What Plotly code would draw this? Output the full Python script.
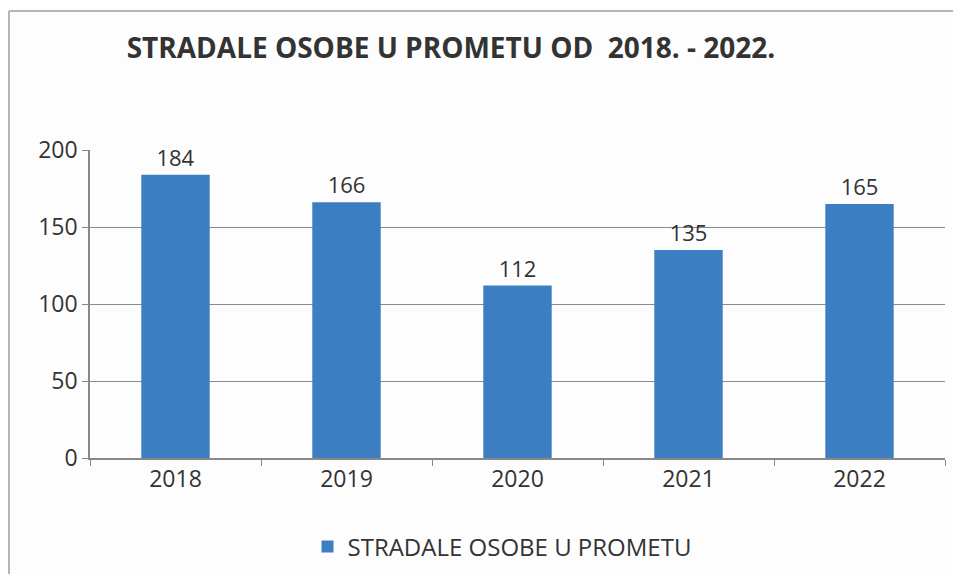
import plotly.graph_objects as go

# data
godine = ["2018", "2019", "2020", "2021", "2022"]
stradali = [184, 166, 112, 135, 165]
naziv_serije = "STRADALE OSOBE U PROMETU"
naslov = "STRADALE OSOBE U PROMETU OD  2018. - 2022."

# page has an 8px body margin, so the figure is a bit smaller than the window
W, H = 945, 566
L, R, T, B = 82, 8, 142, 116
pw, ph = W - L - R, H - T - B

fig = go.Figure()
fig.add_trace(go.Bar(
    x=godine, y=stradali, name=naziv_serije,
    marker=dict(color="#3b7ec2", line=dict(width=0)),
    text=stradali, textposition="outside",
    textfont=dict(size=22, color="#333333"),
    cliponaxis=False,
))

fig.update_layout(
    width=W, height=H,
    margin=dict(l=L, r=R, t=T, b=B, autoexpand=False),
    paper_bgcolor="#fdfdfd", plot_bgcolor="#fdfdfd",
    font=dict(family="Open Sans, sans-serif", size=20, color="#333333"),
    title=dict(text="<b>" + naslov + "</b>", x=443 / W, xanchor="center",
               y=1 - 40 / H, yanchor="middle",
               font=dict(size=28, color="#333333")),
    bargap=0.6,
    showlegend=True,
    legend=dict(orientation="h", x=(494 - L) / pw, xanchor="center",
                y=(450 - 539) / ph, yanchor="middle",
                font=dict(size=24, color="#333333")),
)

fig.update_xaxes(
    type="category", tickson="boundaries", ticks="outside", ticklen=6,
    tickcolor="#888888", showline=True, linecolor="#888888", linewidth=1.5,
    showgrid=False, tickfont=dict(size=23),
)
fig.update_yaxes(
    range=[0, 200], dtick=50, ticks="outside", ticklen=6, tickcolor="#888888",
    showline=True, linecolor="#888888", linewidth=1.5,
    showgrid=True, gridcolor="#8a8a8a", gridwidth=1, zeroline=False,
    tickfont=dict(size=23),
)

# frame lines on the top and left edges of the scanned chart
x_lijevo = (1 - L) / pw
y_vrh = 1 + (T - 3) / ph
fig.add_shape(type="line", xref="paper", yref="paper",
              x0=x_lijevo, x1=x_lijevo, y0=-B / ph, y1=y_vrh,
              line=dict(color="#b5b5b5", width=2))
fig.add_shape(type="line", xref="paper", yref="paper",
              x0=x_lijevo, x1=1 + R / pw, y0=y_vrh, y1=y_vrh,
              line=dict(color="#b5b5b5", width=2))

fig.write_html("out.html")
